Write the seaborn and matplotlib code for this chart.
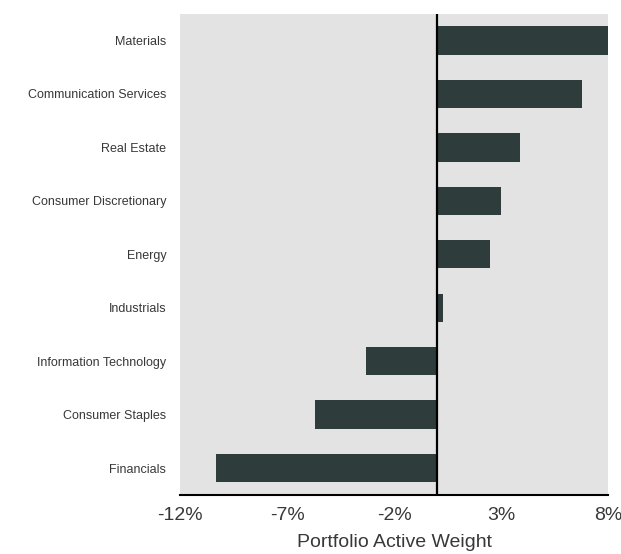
import pandas as pd
import numpy as np

import matplotlib
matplotlib.use('Agg')
import matplotlib.pyplot as plt

import seaborn as sns


sectors = ['Materials', 'Communication Services', 'Real Estate',
           'Consumer Discretionary', 'Energy', 'Industrials',
           'Information Technology', 'Consumer Staples', 'Financials']
active_weight = [8.0, 6.8, 3.9, 3.0, 2.5, 0.3, -3.3, -5.7, -10.3]
tick_values = [-12, -7, -2, 3, 8]
tick_labels = ['-12%', '-7%', '-2%', '3%', '8%']


df = pd.DataFrame({'Sector': sectors, 'Weight': active_weight})

sns.set_style('white')
plt.rcParams['font.family'] = ['Liberation Sans', 'DejaVu Sans']

fig, ax = plt.subplots(figsize=(6.21, 5.54), dpi=100)
fig.subplots_adjust(left=0.29, right=0.979, top=0.975, bottom=0.107)

sns.barplot(data=df, x='Weight', y='Sector', orient='h', color='#2e3c3c',
            saturation=1, width=0.53, linewidth=0, ax=ax)

ax.set_facecolor('#e3e3e3')
ax.set_xlim(-12, 8)
ax.set_ylim(8.5, -0.5)
ax.set_xticks(tick_values)
ax.set_xticklabels(tick_labels, fontsize=14, color='#383838')
ax.tick_params(axis='y', labelsize=9, colors='#383838', length=0, pad=10)
ax.tick_params(axis='x', length=0, pad=9)

ax.axvline(0, color='black', lw=1.6, zorder=5)

for side in ['top', 'right', 'left']:
    ax.spines[side].set_visible(False)
ax.spines['bottom'].set_color('black')
ax.spines['bottom'].set_linewidth(1.5)

ax.set_ylabel('')
ax.set_xlabel('Portfolio Active Weight', fontsize=14, color='#383838', labelpad=7)

plt.savefig('out.png', dpi=100)
plt.close()
